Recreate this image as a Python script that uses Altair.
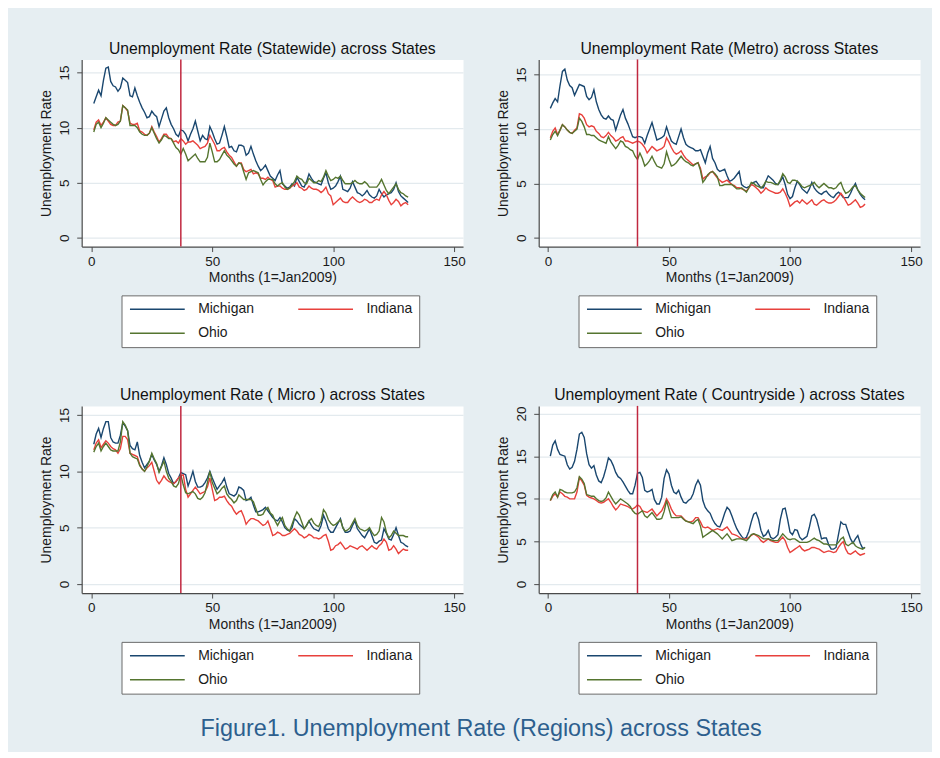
import altair as alt
import pandas as pd

months = list(range(1, 132))
states = ["Michigan", "Ohio", "Indiana"]          # legend fills column-wise
state_colors = ["#1a476f", "#55752f", "#e8413c"]
policy_month = [37]
x_ticks = [0, 50, 100, 150]

# ---------------- Statewide ----------------
statewide_mi = [
    12.2, 12.8, 13.4, 12.9, 14.3, 15.4, 15.5, 14.2, 13.8, 13.7, 13.3, 13.6,
    14.5, 14.3, 14.1, 12.9, 12.8, 13.6, 12.9, 12.3, 11.8, 11.4, 10.9, 11.0,
    11.5, 11.2, 11.0, 10.1, 10.8, 11.5, 11.8, 10.9, 10.3, 9.9, 9.4, 9.2,
    9.8, 9.7, 9.4, 8.8, 9.4, 9.9, 10.6, 9.7, 8.8, 9.3, 9.0, 8.9,
    10.1, 9.6, 9.0, 8.5, 8.6, 9.3, 10.1, 9.2, 8.2, 8.3, 7.9, 7.8,
    8.4, 8.4, 8.3, 7.5, 7.7, 8.3, 7.6, 7.0, 6.5, 6.1, 6.3, 6.6,
    6.1, 5.6, 5.4, 5.2, 5.7, 6.1, 4.9, 4.7, 4.5, 4.6, 4.9, 4.7,
    5.5, 5.1, 4.7, 4.6, 5.1, 5.8, 5.4, 5.1, 5.0, 4.9, 4.8, 5.4,
    5.9, 5.0, 4.4, 4.5, 4.7, 5.1, 5.6, 4.4, 4.3, 4.2, 4.5, 5.1,
    4.6, 4.1, 4.0, 3.8, 4.0, 4.3, 3.9, 3.7, 3.6, 3.8, 4.4, 4.0,
    3.7, 3.9, 4.0, 4.1, 4.4, 5.0, 4.2, 3.8, 3.6, 3.4, 3.2,
]
statewide_in = [
    9.8, 10.5, 10.7, 10.2, 10.5, 10.9, 10.6, 10.3, 10.2, 10.2, 10.5, 10.6,
    12.0, 11.8, 11.5, 10.4, 10.3, 10.3, 10.4, 9.7, 9.6, 9.4, 9.3, 9.5,
    10.1, 9.6, 9.2, 8.7, 9.0, 9.4, 9.4, 9.1, 9.0, 8.7, 8.8, 8.6,
    9.0, 8.8, 8.5, 8.7, 8.7, 8.8, 8.6, 8.4, 8.1, 8.2, 8.3, 8.6,
    9.3, 8.9, 8.5, 7.9, 7.9, 8.1, 8.2, 7.8, 7.5, 7.3, 6.9, 6.5,
    6.8, 6.8, 6.2, 6.0, 6.1, 6.2, 5.8, 5.9, 5.8, 5.4, 5.4, 5.3,
    5.5, 5.3, 5.2, 4.6, 4.7, 4.7, 4.5, 4.4, 4.4, 4.5, 4.7, 4.8,
    5.0, 4.6, 4.5, 4.3, 4.4, 4.7, 4.5, 4.4, 4.4, 4.3, 4.1, 4.3,
    4.6, 4.0, 3.8, 3.0, 3.2, 3.4, 3.6, 3.3, 3.2, 3.2, 3.5, 3.7,
    3.5, 3.3, 3.2, 3.3, 3.5, 3.4, 3.2, 3.2, 3.4, 3.5, 3.4, 3.9,
    4.2, 3.9, 3.4, 3.0, 3.2, 3.5, 3.3, 2.9, 3.1, 3.2, 3.0,
]
statewide_oh = [
    9.6, 10.3, 10.5, 10.0, 10.4, 10.9, 10.7, 10.5, 10.3, 10.2, 10.3, 10.6,
    12.0, 11.8, 11.6, 10.2, 10.2, 10.2, 10.0, 9.6, 9.4, 9.3, 9.3, 9.5,
    10.0, 9.5, 9.0, 8.6, 8.9, 9.3, 9.2, 9.0, 9.0, 8.6, 8.2, 8.0,
    7.6, 8.1, 7.6, 7.0, 7.2, 7.4, 7.6, 7.2, 6.9, 6.9, 6.9, 7.3,
    8.6, 7.8, 6.9, 6.9, 7.1, 7.5, 7.9, 7.5, 7.3, 7.0, 6.7, 6.5,
    6.8, 6.7, 6.0, 5.3, 5.9, 6.0, 6.1, 6.0, 5.9, 5.3, 4.8, 5.1,
    5.3, 5.3, 5.3, 4.9, 4.7, 4.9, 5.0, 4.6, 4.4, 4.5, 4.8, 5.1,
    5.6, 5.4, 5.3, 5.0, 4.9, 5.4, 5.2, 5.0, 5.0, 5.2, 5.1, 5.5,
    6.1, 5.6, 5.2, 5.3, 5.5, 5.4, 5.6, 5.2, 4.9, 4.9, 4.9, 5.0,
    5.2, 5.0, 4.9, 4.9, 5.1, 4.9, 4.6, 4.6, 4.6, 4.6, 4.9, 5.3,
    4.8, 4.3, 4.0, 4.3, 4.6, 4.9, 4.4, 4.1, 4.0, 3.8, 3.7,
]

# ---------------- Metro ----------------
metro_mi = [
    11.9, 12.4, 12.8, 12.5, 14.0, 15.3, 15.5, 14.5, 14.0, 13.8, 13.1, 13.6,
    14.1, 14.0, 13.9, 13.0, 12.7, 12.9, 13.6, 12.5, 11.8, 11.3, 11.0, 10.9,
    11.2, 10.9, 10.8, 9.9, 10.6, 11.3, 11.8, 11.0, 10.5, 9.9, 9.3, 9.2,
    9.3, 9.3, 9.2, 8.7, 9.4, 10.0, 10.6, 9.8, 9.0, 9.1, 9.2, 9.4,
    10.2, 9.5, 8.9, 8.7, 8.6, 9.3, 10.0, 9.2, 8.6, 8.4, 8.3, 8.2,
    8.0, 8.0, 8.1, 7.5, 6.9, 7.8, 8.4, 7.3, 6.9, 6.3, 6.1, 6.2,
    6.3, 5.7, 5.2, 5.3, 5.5, 5.8, 6.1, 4.9, 4.7, 4.6, 4.7, 4.9,
    5.1, 5.2, 4.9, 4.6, 4.6, 5.2, 5.7, 5.5, 5.3, 5.0, 4.9, 5.2,
    5.6, 4.9, 4.0, 3.6, 3.8, 4.6, 5.2, 4.9, 4.5, 4.3, 4.1, 4.5,
    5.1, 4.6, 4.3, 4.1, 4.0, 4.2, 4.3, 4.0, 3.8, 3.7, 4.0, 4.2,
    4.0, 3.7, 3.7, 3.7, 4.1, 4.6, 5.0, 4.4, 4.0, 3.7, 3.5,
]
metro_in = [
    9.2, 9.8, 10.1, 9.5, 9.9, 10.4, 10.2, 9.9, 9.7, 9.6, 9.9, 10.1,
    11.4, 11.3, 11.0, 10.4, 10.2, 10.3, 10.2, 9.8, 9.6, 9.3, 9.2, 9.4,
    9.7, 9.4, 9.2, 8.9, 9.0, 9.2, 9.3, 8.9, 8.9, 8.8, 8.7, 8.8,
    8.9, 8.8, 8.6, 8.3, 7.8, 8.1, 8.4, 8.2, 8.0, 8.1, 8.2, 8.4,
    9.2, 8.8, 8.3, 7.9, 7.7, 7.8, 8.0, 7.6, 7.3, 7.1, 6.9, 6.7,
    6.8, 6.9, 6.4, 5.4, 5.6, 5.7, 6.0, 6.1, 5.8, 5.5, 5.3, 5.1,
    5.2, 5.3, 5.1, 4.9, 4.8, 4.6, 4.6, 4.5, 4.4, 4.3, 4.6, 4.9,
    4.8, 4.6, 4.4, 4.1, 4.3, 4.6, 4.4, 4.3, 4.2, 4.1, 4.1, 4.2,
    4.5, 4.1, 3.6, 2.9, 3.1, 3.3, 3.4, 3.2, 3.5, 3.3, 3.1, 3.3,
    3.5, 3.1, 3.0, 3.2, 3.4, 3.5, 3.3, 3.2, 3.2, 3.3, 3.5, 3.8,
    4.1, 3.8, 3.4, 3.0, 3.1, 3.3, 3.5, 3.2, 2.8, 2.9, 3.1,
]
metro_oh = [
    9.0, 9.5, 9.8, 9.4, 9.9, 10.4, 10.2, 9.9, 9.7, 9.6, 9.8, 10.0,
    11.0, 10.7, 10.2, 9.5, 9.5, 9.4, 9.4, 9.2, 9.0, 8.9, 8.8, 8.7,
    9.3, 8.8, 8.5, 8.2, 8.5, 8.9, 8.8, 8.4, 8.3, 8.1, 8.0, 7.5,
    7.2, 7.8, 7.3, 6.6, 6.8, 7.1, 7.5, 7.0, 6.6, 6.5, 6.4, 6.8,
    7.9, 7.2, 6.6, 6.7, 6.9, 7.2, 7.5, 7.2, 7.0, 6.9, 6.7, 6.6,
    6.8, 6.9, 6.2, 5.1, 5.4, 5.8, 6.0, 6.1, 5.9, 5.6, 4.8, 4.8,
    4.9, 4.9, 4.9, 4.9, 4.7, 4.5, 4.5, 4.6, 4.4, 4.2, 4.6, 5.1,
    5.0, 4.8, 4.7, 4.6, 4.8, 5.2, 5.1, 5.1, 5.0, 4.9, 4.9, 5.3,
    5.9, 5.6, 5.1, 5.0, 5.3, 5.3, 5.2, 5.0, 4.7, 4.6, 4.7, 4.8,
    4.9, 5.1, 4.8, 4.6, 4.8, 5.0, 4.8, 4.6, 4.6, 4.5, 4.6, 4.9,
    5.1, 4.5, 4.1, 4.2, 4.4, 4.7, 4.8, 4.4, 4.1, 3.9, 3.7,
]

# ---------------- Micro ----------------
micro_mi = [
    12.4, 13.3, 13.8, 13.0, 13.8, 14.4, 14.4, 13.0, 12.6, 12.5, 12.5, 13.2,
    14.3, 14.0, 13.6, 12.3, 12.0, 11.9, 12.6, 11.4, 10.8, 10.3, 10.6, 10.9,
    11.5, 11.0, 10.6, 10.0, 10.5, 11.2, 10.6, 9.8, 9.4, 8.9, 9.1, 9.4,
    9.9, 9.8, 9.7, 8.7, 9.3, 10.0, 9.1, 8.6, 8.6, 8.7, 9.0, 9.4,
    10.0, 9.4, 8.9, 8.4, 8.7, 9.0, 9.4, 8.6, 8.0, 7.9, 7.8, 8.0,
    8.6, 8.5, 8.3, 7.4, 7.5, 7.7, 7.0, 6.4, 6.4, 6.5, 6.6, 6.8,
    6.5, 6.2, 5.9, 5.7, 5.6, 5.9, 5.5, 5.0, 4.8, 4.7, 5.0, 5.8,
    5.6, 5.3, 5.1, 4.9, 5.2, 5.6, 5.2, 4.9, 4.8, 4.7, 5.2, 6.1,
    5.6, 4.9, 4.6, 4.6, 5.0, 5.4, 5.8, 5.0, 4.6, 4.6, 4.7, 5.2,
    5.6, 4.9, 4.6, 4.3, 4.1, 4.5, 4.9, 4.3, 3.7, 3.6, 3.8, 3.9,
    4.9, 4.5, 4.0, 3.9, 4.4, 5.0, 4.3, 3.7, 3.6, 3.4, 3.3,
]
micro_in = [
    11.9, 12.5, 12.8, 12.1, 12.4, 12.7, 12.5, 12.2, 12.0, 11.9, 11.6, 12.0,
    13.1, 13.1, 12.8, 11.6, 11.5, 11.4, 11.3, 10.6, 10.2, 10.0, 10.3, 10.5,
    10.8, 10.0, 9.2, 8.9, 9.2, 9.6, 9.3, 9.1, 9.0, 8.9, 9.1, 9.4,
    9.6, 9.7, 8.4, 7.7, 8.0, 8.3, 8.6, 8.3, 8.0, 8.1, 8.2, 8.6,
    9.4, 8.4, 7.4, 7.5, 7.7, 7.7, 7.8, 7.4, 7.1, 6.9, 6.5, 6.2,
    6.4, 6.5, 6.0, 5.3, 5.6, 5.8, 5.8, 5.7, 5.6, 5.4, 5.2, 5.3,
    5.6, 5.0, 4.3, 4.4, 4.6, 4.5, 4.3, 4.3, 4.4, 4.5, 4.7, 4.9,
    4.7, 4.4, 4.3, 4.1, 4.2, 4.4, 4.3, 4.1, 4.1, 4.0, 4.1, 4.3,
    4.4, 3.8, 3.0, 3.1, 3.4, 3.5, 3.7, 3.4, 3.1, 3.2, 3.4, 3.3,
    3.2, 3.1, 3.3, 3.4, 3.2, 3.0, 3.2, 3.4, 3.2, 3.1, 3.4, 3.6,
    4.0, 3.7, 3.0, 3.1, 3.4, 3.1, 2.7, 2.9, 3.1, 3.0, 3.0,
]
micro_oh = [
    11.7, 12.2, 12.5, 11.8, 12.2, 12.5, 12.2, 11.9, 11.8, 11.8, 11.8, 12.6,
    14.4, 14.1, 13.6, 11.6, 11.3, 11.2, 11.1, 10.5, 10.2, 10.0, 10.4, 10.9,
    11.6, 11.1, 10.7, 9.9, 10.4, 10.9, 10.0, 9.4, 9.1, 8.7, 8.6, 8.9,
    9.7, 8.8, 8.1, 8.0, 8.1, 8.2, 8.0, 7.6, 7.5, 7.7, 8.1, 9.0,
    10.0, 9.0, 8.5, 8.0, 8.2, 8.5, 8.7, 8.0, 7.7, 7.5, 7.2, 7.4,
    7.9, 7.7, 7.5, 7.5, 7.5, 7.5, 7.3, 6.7, 6.1, 6.1, 6.2, 6.6,
    6.8, 6.3, 6.1, 5.6, 5.2, 5.6, 5.9, 5.2, 4.9, 4.7, 5.3, 5.9,
    6.4, 6.1, 5.5, 4.9, 5.2, 5.6, 5.8, 5.4, 5.2, 5.1, 5.6, 6.6,
    6.3, 5.7, 5.4, 5.2, 5.3, 5.5, 5.7, 5.0, 4.7, 4.8, 5.0, 5.4,
    5.8, 5.2, 4.9, 4.8, 4.7, 4.8, 5.0, 4.6, 4.3, 4.4, 4.7, 5.9,
    5.5, 4.6, 4.1, 4.3, 4.7, 4.5, 4.3, 4.3, 4.3, 4.2, 4.2,
]

# ---------------- Countryside ----------------
country_mi = [
    15.0, 16.3, 16.8, 15.8, 15.2, 15.1, 15.0, 14.0, 13.5, 13.7, 14.4, 15.8,
    17.6, 17.8, 17.2, 15.3, 14.0, 13.6, 13.9, 12.8, 12.1, 11.9, 12.6, 13.6,
    14.8, 14.5, 13.9, 13.1, 12.6, 12.4, 12.0, 11.5, 11.0, 10.6, 10.6, 11.6,
    13.0, 13.1, 12.5, 11.0, 10.8, 10.9, 11.1, 9.9, 9.4, 9.4, 10.2, 12.4,
    13.4, 12.9, 11.6, 10.8, 10.6, 11.0, 10.2, 9.6, 9.5, 9.8, 10.0, 10.6,
    11.6, 12.2, 11.6, 9.8, 9.0, 8.6, 8.3, 7.6, 7.1, 6.8, 6.7, 7.4,
    8.3, 9.0, 8.7, 8.0, 7.2, 6.5, 6.0, 5.6, 5.3, 5.5, 6.2, 7.3,
    8.2, 8.4, 7.6, 6.3, 5.6, 5.8, 6.3, 5.5, 5.3, 5.5, 5.8, 7.6,
    8.8, 8.9, 7.6, 6.1, 5.8, 6.4, 6.3, 5.5, 5.2, 5.4, 5.6, 6.7,
    8.0, 8.2, 7.6, 6.5, 5.3, 5.4, 5.4, 4.6, 4.1, 4.1, 4.3, 5.8,
    7.3, 7.0, 7.0, 6.1, 5.3, 4.8, 5.3, 5.7, 4.8, 4.2, 4.3,
]
country_in = [
    9.8, 10.3, 10.6, 10.2, 10.8, 10.6, 10.3, 10.2, 10.0, 10.0, 10.0, 10.8,
    12.5, 12.1, 11.6, 10.4, 10.2, 10.1, 10.0, 9.8, 9.6, 9.5, 9.6, 9.8,
    10.0, 9.6, 9.1, 8.7, 9.0, 9.4, 9.3, 9.2, 9.1, 8.9, 8.8, 9.0,
    9.3, 9.1, 8.6, 8.5, 8.4, 8.6, 8.8, 8.4, 8.0, 8.3, 8.6, 9.2,
    10.0, 9.5, 8.8, 8.3, 8.0, 8.0, 8.0, 7.7, 7.4, 7.3, 7.3, 7.4,
    7.8, 7.8, 7.3, 6.7, 6.6, 6.7, 6.5, 6.3, 6.4, 6.5, 6.4, 6.3,
    6.5, 6.7, 6.3, 5.9, 5.8, 5.7, 5.5, 5.3, 5.3, 5.3, 5.5, 5.7,
    5.9, 5.7, 5.5, 5.1, 4.9, 5.1, 5.3, 5.1, 5.0, 4.9, 4.9, 5.2,
    5.5, 5.1, 4.3, 3.7, 3.9, 4.1, 4.3, 4.5, 4.1, 3.9, 4.0, 4.1,
    4.3, 4.3, 4.2, 4.1, 3.9, 3.7, 3.8, 3.9, 3.8, 3.7, 3.8, 4.3,
    4.7, 5.0, 4.1, 3.6, 3.5, 3.7, 3.9, 3.6, 3.4, 3.5, 3.6,
]
country_oh = [
    9.8, 10.5, 10.8, 10.2, 11.1, 11.0, 10.8, 10.7, 10.7, 10.7, 10.8, 11.3,
    12.6, 12.3, 11.8, 10.5, 10.4, 10.3, 10.3, 10.0, 9.8, 9.7, 9.8, 10.1,
    10.8, 10.3, 9.8, 9.4, 9.7, 10.0, 9.8, 9.6, 9.4, 9.1, 8.6, 8.3,
    8.2, 8.4, 8.6, 8.0, 7.8, 8.1, 8.4, 8.0, 7.6, 7.6, 7.7, 8.5,
    9.8, 8.8, 7.8, 7.8, 7.8, 7.8, 7.9, 7.6, 7.4, 7.3, 7.2, 7.1,
    7.4, 7.6, 6.8, 5.5, 5.7, 5.9, 6.1, 6.3, 6.1, 5.9, 5.6, 5.3,
    5.6, 5.9, 5.5, 5.1, 5.2, 5.3, 5.3, 5.3, 5.2, 5.1, 5.4, 5.8,
    5.9, 5.8, 5.7, 5.5, 5.3, 5.3, 5.3, 5.2, 5.1, 5.1, 5.1, 5.5,
    5.9, 5.6, 5.3, 5.2, 5.3, 5.3, 5.1, 4.9, 4.9, 4.9, 4.9, 5.0,
    5.2, 5.4, 5.2, 5.1, 4.9, 4.7, 4.7, 4.6, 4.6, 4.6, 4.6, 4.9,
    5.3, 5.5, 4.7, 4.5, 4.7, 4.9, 4.5, 4.3, 4.2, 4.1, 4.3,
]

FONT = "Liberation Sans"


def make_frame(mi, ind, oh):
    rows = []
    for name, series in [("Michigan", mi), ("Indiana", ind), ("Ohio", oh)]:
        for m, v in zip(months, series):
            rows.append({"month": m, "rate": v, "state": name})
    return pd.DataFrame(rows)


def panel(title, mi, ind, oh, y_domain, y_ticks, x_domain):
    df = make_frame(mi, ind, oh)
    lines = alt.Chart(df).mark_line(strokeWidth=1.4, clip=True).encode(
        x=alt.X("month:Q",
                scale=alt.Scale(domain=x_domain, nice=False, zero=False),
                axis=alt.Axis(values=x_ticks, title="Months (1=Jan2009)", grid=False,
                              labelPadding=3, titlePadding=3, labelFlush=False)),
        y=alt.Y("rate:Q",
                scale=alt.Scale(domain=y_domain, nice=False, zero=False),
                axis=alt.Axis(values=y_ticks, title="Unemployment Rate", grid=True,
                              labelAngle=270, labelAlign="center", labelBaseline="bottom",
                              labelPadding=5, titlePadding=4, labelFlush=False)),
        color=alt.Color("state:N",
                        scale=alt.Scale(domain=states, range=state_colors),
                        legend=alt.Legend(title=None, orient="none", legendX=40, legendY=237,
                                          columns=2, columnPadding=40, rowPadding=10,
                                          padding=7, strokeColor="#6a6a6a", fillColor="white",
                                          symbolType="M-1,0H9", symbolSize=121,
                                          symbolStrokeWidth=1.5, labelOffset=56,
                                          labelFont=FONT, labelFontSize=14,
                                          labelColor="#1a1a1a")),
        detail="state:N",
    )
    rule = alt.Chart(pd.DataFrame({"month": policy_month})).mark_rule(
        color="#c0283f", strokeWidth=1.5
    ).encode(x=alt.X("month:Q"))
    return alt.layer(lines, rule).properties(
        width=383, height=188,
        title=alt.TitleParams(text=title, font=FONT, fontSize=15.8, fontWeight="normal",
                              color="#111111", offset=1, anchor="middle"),
    )


p1 = panel("Unemployment Rate (Statewide) across States", statewide_mi, statewide_in,
           statewide_oh, [-0.8, 16.2], [0, 5, 10, 15], [-4, 153.7])
p2 = panel("Unemployment Rate (Metro) across States", metro_mi, metro_in, metro_oh,
           [-0.8, 16.4], [0, 5, 10, 15], [-3.8, 153.7])
p3 = panel("Unemployment Rate ( Micro ) across States", micro_mi, micro_in, micro_oh,
           [-0.8, 15.8], [0, 5, 10, 15], [-4, 153.7])
p4 = panel("Unemployment Rate ( Countryside ) across States", country_mi, country_in,
           country_oh, [-1.05, 20.9], [0, 5, 10, 15, 20], [-3.8, 153.7])

chart = alt.concat(p1, p2, p3, p4, columns=2, spacing={"row": 38, "column": 30}).resolve_scale(
    color="independent"
).properties(
    title=alt.TitleParams(text="Figure1. Unemployment Rate (Regions) across States",
                          orient="bottom", anchor="middle", font=FONT, fontSize=23.5,
                          fontWeight="normal", color="#2d5f8e", offset=23),
    background="#e6eef2",
    padding={"left": 31, "top": 30, "right": 9, "bottom": 9},
).configure_view(
    fill="white", stroke="transparent"
).configure_axis(
    domainColor="#4a4a4a", tickColor="#4a4a4a", tickSize=5, domainWidth=1.2,
    labelFont=FONT, titleFont=FONT, labelFontSize=13.5, titleFontSize=14,
    labelColor="#1a1a1a", titleColor="#1a1a1a", titleFontWeight="normal",
    gridColor="#e3eaee", gridWidth=1.2,
)

chart.save("out.html", embed_options={"renderer": "svg", "actions": False})
